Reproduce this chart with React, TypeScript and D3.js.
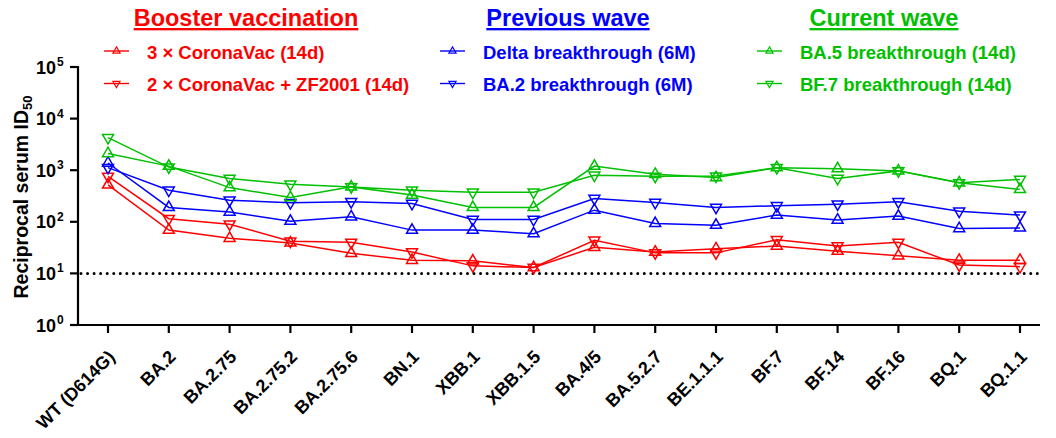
import { useRef, useEffect } from 'react';
import * as d3 from 'd3';

const variants = [
  'WT (D614G)', 'BA.2', 'BA.2.75', 'BA.2.75.2', 'BA.2.75.6', 'BN.1', 'XBB.1', 'XBB.1.5',
  'BA.4/5', 'BA.5.2.7', 'BE.1.1.1', 'BF.7', 'BF.14', 'BF.16', 'BQ.1', 'BQ.1.1'
];

const coronaVac3 = [520, 69, 48, 39, 24.5, 18, 17.5, 13, 32, 26, 30, 34, 27, 22, 18, 18];
const coronaVacZF = [760, 115, 90, 42, 40, 26, 14, 13, 44, 25, 25, 45, 34, 40, 14.5, 13.5];
const deltaBt = [1380, 190, 155, 103, 125, 69, 69, 59, 168, 93, 86, 135, 108, 129, 74, 76];
const ba2Bt = [1120, 410, 263, 234, 245, 227, 111, 111, 283, 237, 190, 205, 220, 245, 160, 135];
const ba5Bt = [2100, 1200, 460, 295, 475, 330, 190, 190, 1200, 835, 720, 1120, 1070, 970, 570, 425];
const bf7Bt = [4270, 1150, 690, 535, 475, 410, 375, 375, 800, 760, 770, 1120, 690, 970, 570, 660];

const yTicks = [0, 1, 2, 3, 4, 5];
const detectionLimit = 10;

const RED = '#ff0000';
const BLUE = '#0000ff';
const GREEN = '#00c000';

const groups = [
  {
    title: 'Booster vaccination', color: RED, cx: 246, lineX: 104, textX: 147,
    items: [
      { label: '3 × CoronaVac (14d)', values: coronaVac3, up: true },
      { label: '2 × CoronaVac + ZF2001 (14d)', values: coronaVacZF, up: false },
    ],
  },
  {
    title: 'Previous wave', color: BLUE, cx: 568, lineX: 440, textX: 483,
    items: [
      { label: 'Delta breakthrough (6M)', values: deltaBt, up: true },
      { label: 'BA.2 breakthrough (6M)', values: ba2Bt, up: false },
    ],
  },
  {
    title: 'Current wave', color: GREEN, cx: 884, lineX: 757, textX: 800,
    items: [
      { label: 'BA.5 breakthrough (14d)', values: ba5Bt, up: true },
      { label: 'BF.7 breakthrough (14d)', values: bf7Bt, up: false },
    ],
  },
];

const W = 1056;
const H = 438;
const FONT = '"Liberation Sans", Arial, sans-serif';

export default function App() {
  const svgRef = useRef<SVGSVGElement>(null);

  useEffect(() => {
    if (!svgRef.current) return;
    const svg = d3.select(svgRef.current);
    svg.selectAll('*').remove();

    const axisX = 78;
    const axisRight = 1040;
    const y = d3.scaleLog().domain([1, 1e5]).range([325, 67]);
    const x = d3.scalePoint<string>().domain(variants).range([108, 1020]);
    const y0 = y(1);

    const tri = d3.symbol().type(d3.symbolTriangle).size(52)();
    const triSmall = d3.symbol().type(d3.symbolTriangle).size(22)();

    // dotted limit line
    svg.append('line')
      .attr('x1', axisX + 3).attr('x2', axisRight)
      .attr('y1', y(detectionLimit)).attr('y2', y(detectionLimit))
      .attr('stroke', '#000').attr('stroke-width', 3)
      .attr('stroke-linecap', 'round')
      .attr('stroke-dasharray', '0 6.55');

    // series
    const line = d3.line<number>()
      .x((_, i) => x(variants[i])!)
      .y(d => y(d));

    groups.forEach(g => {
      g.items.forEach(item => {
        svg.append('path')
          .attr('d', line(item.values))
          .attr('fill', 'none')
          .attr('stroke', g.color)
          .attr('stroke-width', 1.5);
        svg.append('g').selectAll('path')
          .data(item.values)
          .join('path')
          .attr('d', tri)
          .attr('transform', (d, i) => `translate(${x(variants[i])},${y(d)}) rotate(${item.up ? 0 : 180})`)
          .attr('fill', 'none')
          .attr('stroke', g.color)
          .attr('stroke-width', 1.5);
      });
    });

    // axes
    svg.append('line')
      .attr('x1', axisX).attr('x2', axisX)
      .attr('y1', y(1e5) - 1).attr('y2', y0 + 1)
      .attr('stroke', '#000').attr('stroke-width', 2.2);
    svg.append('line')
      .attr('x1', axisX - 1).attr('x2', axisRight)
      .attr('y1', y0).attr('y2', y0)
      .attr('stroke', '#000').attr('stroke-width', 2.2);

    yTicks.forEach(e => {
      const ty = y(Math.pow(10, e));
      svg.append('line')
        .attr('x1', axisX - 8).attr('x2', axisX)
        .attr('y1', ty).attr('y2', ty)
        .attr('stroke', '#000').attr('stroke-width', 2.2);
      svg.append('text')
        .attr('x', 56).attr('y', ty + 6.5)
        .attr('text-anchor', 'end')
        .attr('font-family', FONT).attr('font-weight', 'bold').attr('font-size', 18)
        .text('10');
      svg.append('text')
        .attr('x', 57).attr('y', ty - 1)
        .attr('font-family', FONT).attr('font-weight', 'bold').attr('font-size', 12)
        .text(String(e));
    });

    variants.forEach(v => {
      const tx = x(v)!;
      svg.append('line')
        .attr('x1', tx).attr('x2', tx)
        .attr('y1', y0).attr('y2', y0 + 8)
        .attr('stroke', '#000').attr('stroke-width', 2.2);
      svg.append('text')
        .attr('transform', `translate(${tx + 8},${y0 + 33}) rotate(-45)`)
        .attr('text-anchor', 'end')
        .attr('font-family', FONT).attr('font-weight', 'bold').attr('font-size', 18)
        .text(v);
    });

    // y label
    const yl = svg.append('text')
      .attr('transform', `translate(28,197) rotate(-90)`)
      .attr('text-anchor', 'middle')
      .attr('font-family', FONT).attr('font-weight', 'bold').attr('font-size', 19.5);
    yl.append('tspan').text('Reciprocal serum ID');
    yl.append('tspan').attr('font-size', 13).attr('dy', 4).text('50');

    // legend
    groups.forEach(g => {
      svg.append('text')
        .attr('x', g.cx).attr('y', 26)
        .attr('text-anchor', 'middle')
        .attr('fill', g.color)
        .attr('font-family', FONT).attr('font-weight', 'bold').attr('font-size', 23.5)
        .attr('text-decoration', 'underline')
        .text(g.title);
      g.items.forEach((item, i) => {
        const ly = 51 + i * 32.5;
        svg.append('line')
          .attr('x1', g.lineX).attr('x2', g.lineX + 25)
          .attr('y1', ly).attr('y2', ly)
          .attr('stroke', g.color).attr('stroke-width', 1.4);
        svg.append('path')
          .attr('d', triSmall)
          .attr('transform', `translate(${g.lineX + 12.5},${ly}) rotate(${item.up ? 0 : 180})`)
          .attr('fill', 'none').attr('stroke', g.color).attr('stroke-width', 1.2);
        svg.append('text')
          .attr('x', g.textX).attr('y', ly + 7.5)
          .attr('fill', g.color)
          .attr('font-family', FONT).attr('font-weight', 'bold').attr('font-size', 18.5)
          .text(item.label);
      });
    });
  }, []);

  return (
    <svg
      ref={svgRef}
      width={W}
      height={H}
      style={{ position: 'absolute', left: 0, top: 0, background: '#fff' }}
    />
  );
}
